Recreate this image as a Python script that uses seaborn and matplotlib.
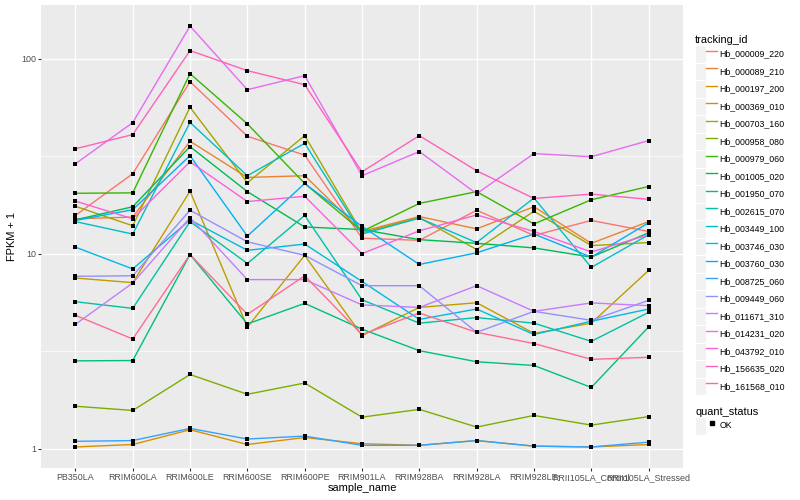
import numpy as np
import pandas as pd
import matplotlib
matplotlib.use("Agg")
import matplotlib.pyplot as plt
import matplotlib.ticker as mticker
from matplotlib.lines import Line2D
from matplotlib.patches import Patch
from matplotlib.legend_handler import HandlerTuple
import seaborn as sns

plt.rcParams['font.family'] = ['Liberation Sans', 'DejaVu Sans']

# Samples on the x axis
samples = ["PB350LA", "RRIM600LA", "RRIM600LE", "RRIM600SE", "RRIM600PE", "RRIM901LA",
           "RRIM928BA", "RRIM928LA", "RRIM928LE", "RRII105LA_Control", "RRII105LA_Stressed"]

tracking_ids = ["Hb_000009_220", "Hb_000089_210", "Hb_000197_200", "Hb_000369_010",
                "Hb_000703_160", "Hb_000958_080", "Hb_000979_060", "Hb_001005_020",
                "Hb_001950_070", "Hb_002615_070", "Hb_003449_100", "Hb_003746_030",
                "Hb_003760_030", "Hb_008725_060", "Hb_009449_060", "Hb_011671_310",
                "Hb_014231_020", "Hb_043792_010", "Hb_156635_020", "Hb_161568_010"]

# FPKM + 1 for each gene, in sample order
hb_000009_220 = [15.7, 25.7, 76.2, 40.0, 32.0, 12.0, 11.7, 16.7, 12.4, 14.8, 13.0]
hb_000089_210 = [15.1, 15.4, 37.7, 24.6, 25.1, 13.0, 15.5, 13.4, 17.4, 11.3, 14.6]
hb_000197_200 = [1.02, 1.05, 1.25, 1.05, 1.14, 1.06, 1.04, 1.10, 1.03, 1.02, 1.05]
hb_000369_010 = [7.5, 7.1, 20.9, 4.2, 9.8, 3.8, 5.3, 5.6, 3.9, 4.4, 8.2]
hb_000703_160 = [17.5, 13.9, 56.3, 23.1, 40.3, 12.8, 15.3, 10.5, 16.5, 11.0, 11.4]
hb_000958_080 = [1.65, 1.57, 2.40, 1.90, 2.17, 1.45, 1.59, 1.29, 1.48, 1.32, 1.46]
hb_000979_060 = [20.4, 20.5, 83.8, 46.3, 22.9, 13.0, 18.1, 20.8, 14.2, 18.9, 22.1]
hb_001005_020 = [14.9, 17.4, 35.4, 20.8, 13.7, 13.3, 11.8, 11.3, 10.7, 9.6, 12.8]
hb_001950_070 = [2.82, 2.83, 9.9, 4.36, 5.56, 4.1, 3.18, 2.79, 2.67, 2.06, 4.21]
hb_002615_070 = [5.67, 5.24, 14.6, 8.9, 15.7, 5.8, 4.4, 4.7, 4.4, 3.55, 5.0]
hb_003449_100 = [14.6, 12.6, 47.1, 25.1, 36.8, 12.6, 15.2, 11.4, 19.3, 8.5, 12.5]
hb_003746_030 = [10.8, 8.35, 14.9, 10.4, 11.2, 7.2, 4.6, 5.2, 3.85, 4.5, 5.2]
hb_003760_030 = [14.8, 16.8, 31.8, 12.3, 22.9, 13.8, 8.8, 10.1, 12.6, 9.6, 14.4]
hb_008725_060 = [1.09, 1.10, 1.27, 1.12, 1.16, 1.04, 1.04, 1.10, 1.03, 1.02, 1.08]
hb_009449_060 = [7.65, 7.7, 16.7, 11.5, 9.8, 6.85, 6.85, 3.95, 5.06, 4.55, 5.76]
hb_011671_310 = [4.34, 7.07, 15.3, 7.36, 7.36, 5.46, 5.3, 6.85, 5.06, 5.59, 5.41]
hb_014231_020 = [28.9, 47.0, 147.0, 69.3, 81.8, 25.1, 33.4, 20.3, 32.6, 31.4, 38.0]
hb_043792_010 = [18.6, 15.1, 29.6, 18.5, 19.7, 10.0, 13.1, 15.8, 13.0, 10.2, 12.5]
hb_156635_020 = [34.5, 40.8, 110.0, 86.8, 73.5, 26.3, 40.3, 26.6, 19.2, 20.2, 19.0]
hb_161568_010 = [4.83, 3.65, 9.9, 4.88, 7.7, 3.84, 4.96, 3.95, 3.46, 2.87, 2.94]

series = [hb_000009_220, hb_000089_210, hb_000197_200, hb_000369_010, hb_000703_160,
          hb_000958_080, hb_000979_060, hb_001005_020, hb_001950_070, hb_002615_070,
          hb_003449_100, hb_003746_030, hb_003760_030, hb_008725_060, hb_009449_060,
          hb_011671_310, hb_014231_020, hb_043792_010, hb_156635_020, hb_161568_010]

# ggplot default hue palette for 20 levels
hue_colors = ["#F8766D", "#EA8331", "#D89000", "#C09B00", "#A3A500", "#7CAE00", "#39B600",
              "#00BB4E", "#00BF7D", "#00C1A3", "#00BFC4", "#00BAE0", "#00B0F6", "#35A2FF",
              "#9590FF", "#C77CFF", "#E76BF3", "#FA62DB", "#FF62BC", "#FF6C91"]

rows = []
for tid, vals in zip(tracking_ids, series):
    for s, v in zip(samples, vals):
        rows.append((tid, s, v, "OK"))
df = pd.DataFrame(rows, columns=["tracking_id", "sample_name", "fpkm1", "quant_status"])

fig = plt.figure(figsize=(8, 5), dpi=100)
ax = fig.add_axes([41 / 800, 1 - 468 / 500, 642 / 800, 463 / 500])
ax.set_facecolor("#EBEBEB")

sns.lineplot(data=df, x="sample_name", y="fpkm1", hue="tracking_id", hue_order=tracking_ids,
             palette=hue_colors, linewidth=1.0, sort=False, estimator=None,
             legend=False, ax=ax)
sns.scatterplot(data=df, x="sample_name", y="fpkm1", color="black", marker="s", s=9,
                linewidth=0, legend=False, ax=ax, zorder=3)

ax.set_yscale("log")
lo, hi = np.log10(df["fpkm1"].min()), np.log10(df["fpkm1"].max())
pad = 0.05 * (hi - lo)
ax.set_ylim(10 ** (lo - pad), 10 ** (hi + pad))
ax.set_xlim(-0.6, len(samples) - 0.4)

ax.yaxis.set_major_locator(mticker.FixedLocator([1, 10, 100]))
ax.yaxis.set_major_formatter(mticker.FixedFormatter(["1", "10", "100"]))
ax.yaxis.set_minor_locator(mticker.FixedLocator([10 ** -0.5, 10 ** 0.5, 10 ** 1.5, 10 ** 2.5]))
ax.yaxis.set_minor_formatter(mticker.NullFormatter())

ax.grid(which="major", color="white", linewidth=1.0)
ax.grid(which="minor", axis="y", color="white", linewidth=0.5)
ax.set_axisbelow(True)
for sp in ax.spines.values():
    sp.set_visible(False)
ax.tick_params(which="major", length=2, width=0.8, color="#333333", labelsize=6.4,
               labelcolor="#4D4D4D", pad=1.6)
ax.tick_params(which="minor", length=0)

ax.set_xlabel("sample_name", fontsize=7.9, labelpad=1)
ax.set_ylabel("FPKM + 1", fontsize=7.9, labelpad=3)

# legends
key_bg = dict(facecolor="#F2F2F2", edgecolor="white", linewidth=0.8)
leg_kw = dict(handler_map={tuple: HandlerTuple(ndivide=None, pad=0)}, loc="upper left",
              frameon=False, fontsize=6.3, title_fontsize=7.9, alignment="left",
              handlelength=2.5, handleheight=2.7, labelspacing=0, handletextpad=0.3,
              borderpad=0, borderaxespad=0)

handles1 = [(Patch(**key_bg), Line2D([], [], color=c, lw=1.0)) for c in hue_colors]
fig.legend(handles1, tracking_ids, bbox_to_anchor=(0.869, 0.93), title="tracking_id", **leg_kw)

handles2 = [(Patch(**key_bg), Line2D([], [], marker="s", color="black", ls="none", ms=2.9))]
fig.legend(handles2, ["OK"], bbox_to_anchor=(0.869, 0.186), title="quant_status", **leg_kw)

fig.savefig("out.png", dpi=100)
